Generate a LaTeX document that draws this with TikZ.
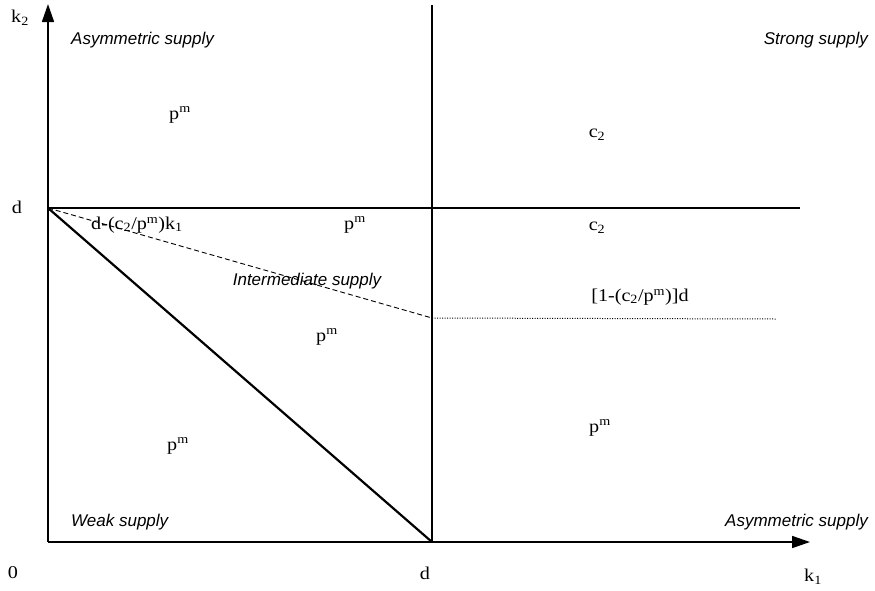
\documentclass[tikz,border=0pt]{standalone}
\usepackage{fontspec}
\setmainfont{Liberation Serif}[FakeStretch=1.12]
\newfontfamily\arialfam{Liberation Sans}
\usetikzlibrary{arrows.meta}
\begin{document}
\begin{tikzpicture}[x=1pt,y=-1pt,
  ser/.style={inner sep=1pt,font=\fontsize{18}{20}\selectfont},
  reg/.style={inner sep=1pt,font=\arialfam\itshape\fontsize{17}{19}\selectfont},
  axis/.style={line width=1.6pt,-{Triangle[length=18pt,width=12pt]}},
  bold/.style={line width=2.2pt},
  thindash/.style={line width=0.9pt,dash pattern=on 5pt off 3pt},
  thindot/.style={line width=1pt,dash pattern=on 1pt off 1.5pt}]
\useasboundingbox (0,0) rectangle (875,590);
\coordinate (O) at (48,542);
\coordinate (Ytop) at (48,4);
\coordinate (Xend) at (810,542);
\coordinate (Dy) at (48,208);
\coordinate (Dx) at (432,542);
\coordinate (Vtop) at (432,5);
\coordinate (Hend) at (800,208);
\coordinate (Q) at (432,318);
\coordinate (Qend) at (776,319);
% axes
\draw[axis] (O) -- (Ytop);
\draw[axis] (O) -- (Xend);
% lines
\draw[bold] (Dx) -- (Vtop);
\draw[bold] (Dy) -- (Hend);
\draw[bold] (Dy) -- (Dx);
\draw[thindash] (Dy) -- (Q);
\draw[thindot] (Q) -- (Qend);
% axis labels
\node[ser] (k2) at (20,18) {k\textsubscript{2}};
\node[ser] (dy) at (17,207) {d};
\node[ser] (zero) at (13,573) {0};
\node[ser] (dx) at (425,573) {d};
\node[ser] (k1) at (813,577) {k\textsubscript{1}};
% region labels
\node[reg,anchor=west] (asymtop) at (70,40) {Asymmetric supply};
\node[reg,anchor=east] (strong) at (869,40) {Strong supply};
\node[reg,anchor=west] (weak) at (70,522) {Weak supply};
\node[reg,anchor=east] (asymbot) at (869,522) {Asymmetric supply};
\node[reg] (inter) at (307,281) {Intermediate supply};
% values
\node[ser] (p1) at (180,115) {p\textsuperscript{m}};
\node[ser] (c1) at (597,135) {c\textsubscript{2}};
\node[ser] (p2) at (355,225) {p\textsuperscript{m}};
\node[ser] (c2) at (597,228) {c\textsubscript{2}};
\node[ser] (eq) at (137,225) {d-(c\textsubscript{2}/p\textsuperscript{m})k\textsubscript{1}};
\node[ser] (bd) at (640,297) {[1-(c\textsubscript{2}/p\textsuperscript{m})]d};
\node[ser] (p3) at (327,337) {p\textsuperscript{m}};
\node[ser] (p4) at (178,446) {p\textsuperscript{m}};
\node[ser] (p5) at (600,428) {p\textsuperscript{m}};
\end{tikzpicture}
\end{document}
